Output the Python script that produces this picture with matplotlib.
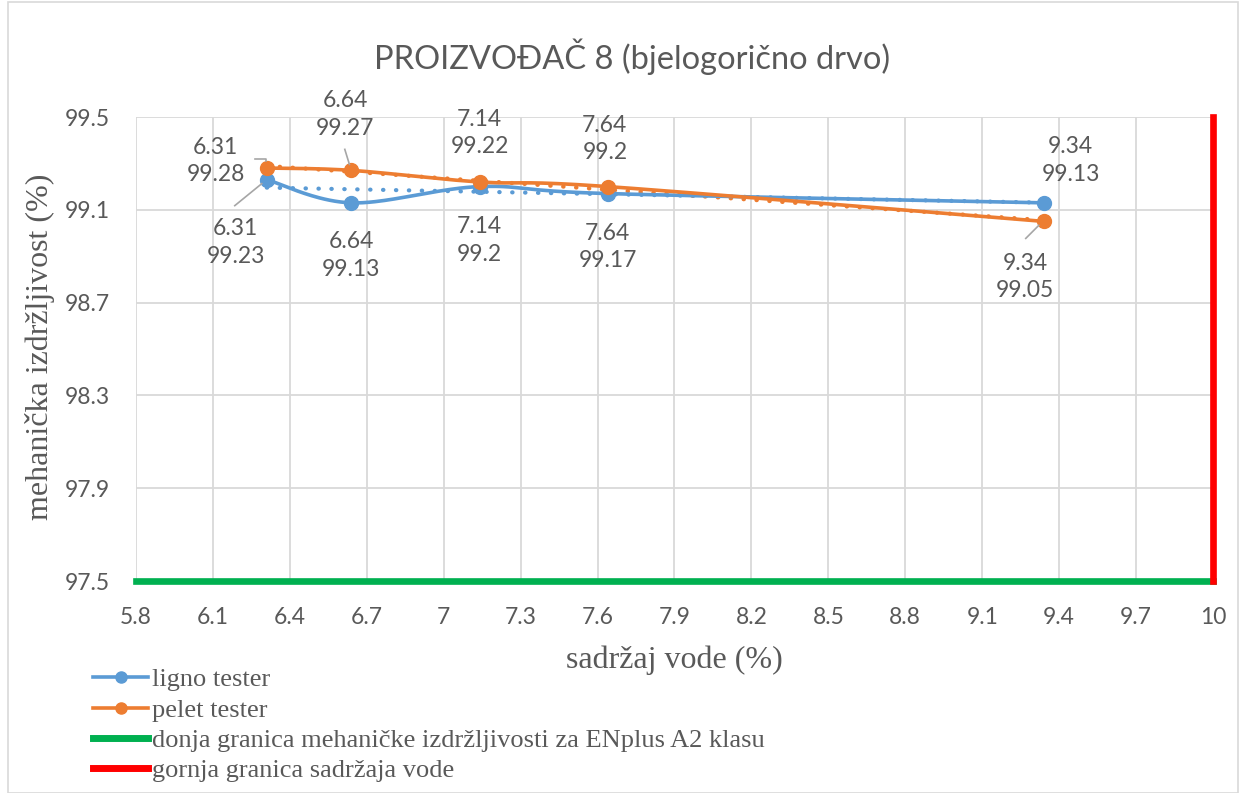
import numpy as np
import matplotlib
matplotlib.use("Agg")
import matplotlib.pyplot as plt
from matplotlib.lines import Line2D
from matplotlib.patches import Rectangle
from matplotlib.transforms import IdentityTransform

# ---- data ----
moisture = [6.31, 6.64, 7.14, 7.64, 9.34]
ligno = [99.23, 99.13, 99.20, 99.17, 99.13]
pelet = [99.28, 99.27, 99.22, 99.20, 99.05]
lower_limit_durability = 97.5
upper_limit_moisture = 10.0
x_ticks = [5.8, 6.1, 6.4, 6.7, 7.0, 7.3, 7.6, 7.9, 8.2, 8.5, 8.8, 9.1, 9.4, 9.7, 10.0]
y_ticks = [97.5, 97.9, 98.3, 98.7, 99.1, 99.5]

BLUE = "#5B9BD5"
ORANGE = "#ED7D31"
GREEN = "#00B050"
RED = "#FF0000"
TXT = "#595959"
GRID = "#D9D9D9"
LEAD = "#A6A6A6"
SANS = ["Lato", "DejaVu Sans"]
SERIF = ["Liberation Serif", "DejaVu Serif"]


def smooth(xs, ys, n=40):
    xs = np.asarray(xs, float); ys = np.asarray(ys, float)
    P = np.column_stack([xs, ys])
    out = []
    for i in range(len(P) - 1):
        p0 = P[i - 1] if i > 0 else P[i]
        p1 = P[i]; p2 = P[i + 1]
        p3 = P[i + 2] if i + 2 < len(P) else P[i + 1]
        c1 = p1 + (p2 - p0) / 6.0
        c2 = p2 - (p3 - p1) / 6.0
        t = np.linspace(0, 1, n)[:, None]
        seg = (1 - t) ** 3 * p1 + 3 * (1 - t) ** 2 * t * c1 + 3 * (1 - t) * t ** 2 * c2 + t ** 3 * p2
        out.append(seg if i == 0 else seg[1:])
    S = np.vstack(out)
    return S[:, 0], S[:, 1]


W, H = 1246, 793
fig = plt.figure(figsize=(W / 100, H / 100), dpi=100)
ax = fig.add_axes([136 / W, 1 - 581 / H, (1213 - 136) / W, (581 - 117) / H])
ax.set_xlim(5.8, 10.0)
ax.set_ylim(97.5, 99.5)

for s in ax.spines.values():
    s.set_visible(False)
ax.set_xticks(x_ticks)
ax.set_yticks(y_ticks)
ax.set_xticklabels(["%g" % round(v, 1) for v in x_ticks])
ax.set_yticklabels(["%.1f" % v for v in y_ticks])
ax.tick_params(length=0, labelsize=16.5, labelcolor=TXT)
ax.tick_params(axis="y", pad=19)
ax.tick_params(axis="x", pad=19)
for lab in ax.get_xticklabels() + ax.get_yticklabels():
    lab.set_family(SANS)
ax.grid(True, color=GRID, lw=1.3)
ax.set_axisbelow(True)

# trendlines (linear)
for ys, col in [(ligno, BLUE), (pelet, ORANGE)]:
    k, b = np.polyfit(moisture, ys, 1)
    xt = np.array([moisture[0], moisture[-1]])
    ax.plot(xt, k * xt + b, color=col, lw=3.0, ls=(0, (0.1, 3.0)), dash_capstyle="round", zorder=3)

# series
for ys, col in [(ligno, BLUE), (pelet, ORANGE)]:
    sx, sy = smooth(moisture, ys)
    ax.plot(sx, sy, color=col, lw=2.6, zorder=4, solid_capstyle="round")
    ax.plot(moisture, ys, ls="none", marker="o", ms=10, color=col, zorder=5)

# limits
ax.axhline(lower_limit_durability, color=GREEN, lw=4.8, zorder=6, clip_on=False)
ax.axvline(upper_limit_moisture, color=RED, lw=4.8, zorder=6, clip_on=False)

# data labels (offset pixels from point)
blue_off = [(-31, -63), (0, -53), (0, -54), (0, -53.5), (27, 42)]
orange_off = [(-51, 7), (-6, 56), (0, 49), (-3, 47.5), (-18.5, -55.5)]
for ys_, offs in [(ligno, blue_off), (pelet, orange_off)]:
    for x, y, (dx, dy) in zip(moisture, ys_, offs):
        ax.annotate("%g\n%g" % (x, y), (x, y), xytext=(dx, dy), textcoords="offset pixels",
                    ha="center", va="center", fontsize=16.5, color=TXT, family=SANS,
                    linespacing=1.4, zorder=7)

# leader lines (pixel offsets relative to the data point)
leaders = [
    (moisture[0], ligno[0], [(-32, -26), (-5, -4)]),
    (moisture[1], pelet[1], [(-6.6, 21), (-2, 6)]),
    (moisture[4], pelet[4], [(-18, -17), (-5, -4)]),
    (moisture[0], pelet[0], [(-12, 9), (-1, 9), (-1, 7)]),
]
for x, y, pts in leaders:
    px, py = ax.transData.transform((x, y))
    xs = [px + dx for dx, dy in pts]
    ys = [py + dy for dx, dy in pts]
    fig.add_artist(Line2D(xs, ys, transform=IdentityTransform(), color=LEAD, lw=1.2, zorder=8))

ax.set_xlabel("sadržaj vode (%)", fontsize=23, family=SERIF, color=TXT, va="center")
ax.xaxis.set_label_coords(0.5, (581 - 660) / 464)
ax.set_ylabel("mehanička izdržljivost (%)", fontsize=23, family=SERIF, color=TXT, va="center")
ax.yaxis.set_label_coords((40 - 136) / 1077, 0.505)
fig.text(632 / W, 1 - 57 / H, "PROIZVOĐAČ 8 (bjelogorično drvo)", ha="center", va="center",
         fontsize=23.5, family=SANS, color=TXT)

handles = [
    Line2D([], [], color=BLUE, lw=2.6, marker="o", ms=8),
    Line2D([], [], color=ORANGE, lw=2.6, marker="o", ms=8),
    Line2D([], [], color=GREEN, lw=5),
    Line2D([], [], color=RED, lw=5),
]
labels = ["ligno tester", "pelet tester",
          "donja granica mehaničke izdržljivosti za ENplus A2 klasu",
          "gornja granica sadržaja vode"]
leg = fig.legend(handles, labels, loc="upper left", bbox_to_anchor=(93 / W, 1 - 668 / H),
                 frameon=False, prop={"family": SERIF, "size": 19}, handlelength=2.1,
                 handletextpad=0.15, labelspacing=0.26, borderaxespad=0, borderpad=0)
for t in leg.get_texts():
    t.set_color(TXT)

fig.patches.append(Rectangle((8 / W, 0), 1 - 16 / W, 1 - 2 / H, transform=fig.transFigure,
                             fill=False, edgecolor="#D9D9D9", lw=1.2))

fig.savefig("out.png", dpi=100)
